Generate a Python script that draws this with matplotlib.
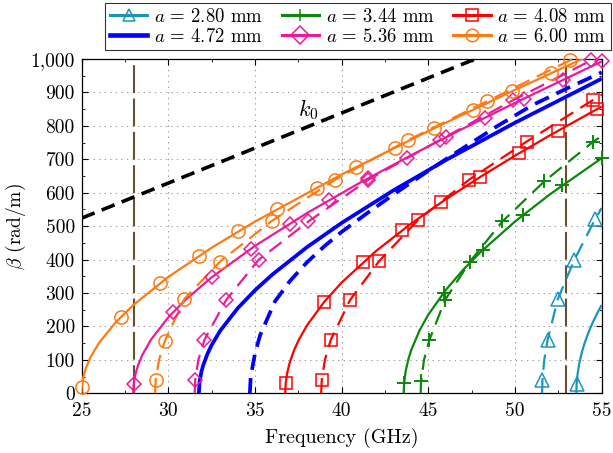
import numpy as np
import matplotlib
matplotlib.use('Agg')
import matplotlib.pyplot as plt
from matplotlib.lines import Line2D
from matplotlib.ticker import MultipleLocator, FuncFormatter

plt.rcParams['font.family'] = 'serif'
plt.rcParams['font.serif'] = ['cmr10', 'DejaVu Serif']
plt.rcParams['mathtext.fontset'] = 'cm'
plt.rcParams['axes.formatter.use_mathtext'] = True
plt.rcParams['lines.scale_dashes'] = False

# ---- data (frequency in GHz, beta in rad/m) ----
labels = ['2.80', '3.44', '4.08', '4.72', '5.36', '6.00']
colors = ['#1b95c0', '#0b870b', '#ff0000', '#0000ff', '#ec1a9a', '#ff7a12']
markers = ['^', '+', 's', None, 'D', 'o']

# solid curves
f_s = [
    [53.535, 53.55, 53.6, 53.7, 53.85, 54.0, 54.25, 54.5, 54.75, 55.0],
    [43.575, 43.6, 43.7, 43.85, 44.0, 44.5, 45.0, 46.0, 47.0, 48.0, 50.0, 52.0, 55.0],
    [36.74, 36.77, 36.85, 37.0, 37.25, 37.5, 38.0, 39.0, 40.0, 42.0, 44.0, 46.0, 48.0, 50.0, 52.0, 55.0],
    [31.757, 31.8, 31.9, 32.0, 32.25, 32.5, 33.0, 34.0, 35.0, 36.0, 38.0, 40.0, 43.0, 46.0, 50.0, 55.0],
    [27.967, 28.0, 28.1, 28.25, 28.5, 29.0, 30.0, 31.0, 32.5, 35.0, 38.0, 41.0, 44.0, 47.0, 50.0, 55.0],
    [24.983, 25.0, 25.1, 25.25, 25.5, 26.0, 27.0, 28.0, 30.0, 32.5, 35.0, 40.0, 45.0, 50.0, 55.0],
]
b_s = [
    [0, 26.7, 55.0, 88.2, 121.9, 148.2, 184.0, 214.0, 240.4, 264.3],
    [0, 30.8, 69.2, 102.7, 127.8, 189.2, 235.4, 308.9, 369.1, 421.9, 513.9, 594.7, 703.3],
    [0, 31.0, 59.6, 91.8, 128.7, 157.4, 203.4, 274.2, 331.5, 426.5, 507.4, 580.1, 647.4, 710.8, 771.2, 857.8],
    [0, 34.2, 63.0, 82.3, 117.6, 144.7, 187.9, 254.5, 308.3, 355.3, 437.3, 509.7, 607.6, 697.4, 809.4, 941.1],
    [0, 28.8, 57.4, 83.7, 115.0, 160.8, 227.5, 280.3, 347.0, 441.1, 539.2, 628.3, 711.9, 791.7, 868.7, 992.6],
    [0, 19.2, 50.7, 76.7, 107.0, 150.9, 214.6, 265.0, 348.1, 435.6, 513.7, 654.7, 784.4, 907.7, 1026.9],
]
# markers on solid curves
fm_s = [
    [53.55],
    [43.6, 45.88, 48.16, 50.44, 52.72, 55.0],
    [36.77, 39.0, 41.25, 43.5, 45.75, 48.0, 50.25, 52.5, 54.75],
    [],
    [28.0, 30.25, 32.5, 34.75, 37.0, 39.25, 41.5, 43.75, 46.0, 48.25, 50.5, 52.75, 55.0],
    [25.0, 27.26, 29.52, 31.77, 34.03, 36.29, 38.55, 40.81, 43.06, 45.32, 47.58, 49.84, 52.1],
]
bm_s = [
    [26.7],
    [30.8, 301.0, 429.8, 532.4, 621.9, 703.3],
    [31.0, 274.2, 393.1, 488.1, 571.4, 647.4, 718.5, 786.0, 850.7],
    [],
    [28.8, 241.7, 347.0, 432.3, 507.7, 577.2, 642.6, 705.1, 765.4, 824.0, 881.3, 937.4, 992.6],
    [19.2, 228.6, 329.5, 411.3, 484.3, 551.6, 615.3, 676.3, 735.0, 792.5, 848.7, 903.8, 958.2],
]

# dashed curves
f_d = [
    [51.56, 51.58, 51.685, 51.88, 52.46, 53.42, 54.62, 55.0],
    [44.553, 44.58, 44.75, 45.06, 45.96, 47.4, 49.27, 51.69, 54.52, 55.0],
    [38.815, 38.85, 39.03, 39.37, 40.48, 42.17, 44.42, 47.35, 50.67, 54.52, 55.0],
    [34.70, 34.75, 35.0, 35.3, 36.15, 37.0, 38.0, 39.0, 40.0, 41.5, 43.0, 44.5, 46.0, 47.5, 49.0, 51.0, 53.0, 55.0],
    [31.515, 31.55, 31.73, 32.08, 33.33, 35.2, 38.08, 41.54, 45.67, 49.9, 54.4, 55.0],
    [29.233, 29.27, 29.46, 29.8, 30.92, 32.98, 35.98, 39.62, 43.85, 48.37, 53.17, 54.0],
]
b_d = [
    [0, 40, 100, 160, 281, 399, 521, 554],
    [0, 37, 100, 160, 279, 394, 514, 634, 753, 770],
    [0, 40, 100, 160, 279, 396, 519, 639, 753, 878, 893],
    [0, 50, 120, 175, 275, 335, 392, 440, 483, 540, 595, 648, 700, 750, 800, 862, 912, 960],
    [0, 40, 100, 160, 279, 399, 514, 639, 758, 877, 996, 1012],
    [0, 40, 100, 157, 282, 394, 516, 639, 758, 873, 996, 1020],
]
# markers on dashed curves
fm_d = [
    [51.58, 51.88, 52.46, 53.42, 54.62],
    [44.58, 45.06, 45.96, 47.4, 49.27, 51.69, 54.52],
    [38.85, 39.37, 40.48, 42.17, 44.42, 47.35, 50.67, 54.52],
    [],
    [31.55, 32.08, 33.33, 35.2, 38.08, 41.54, 45.67, 49.9, 54.4],
    [29.27, 29.8, 30.92, 32.98, 35.98, 39.62, 43.85, 48.37, 53.17],
]
bm_d = [
    [40, 160, 281, 399, 521],
    [37, 160, 279, 394, 514, 634, 753],
    [40, 160, 279, 396, 519, 639, 753, 878],
    [],
    [40, 160, 279, 399, 514, 639, 758, 877, 996],
    [40, 157, 282, 394, 516, 639, 758, 873, 996],
]

f_k0 = [25, 55]
b_k0 = [524, 1153]
f_vlines = [28.0, 52.93]

fig = plt.figure(figsize=(6.13, 4.53), dpi=100)
ax = fig.add_axes([0.1333, 0.1318, 0.8483, 0.738])

for x in f_vlines:
    ax.axvline(x, color='#6b4f2c', lw=1.5, dashes=(20, 4), zorder=2)
ax.plot(f_k0, b_k0, color='black', lw=2.6, dashes=(10, 5.5), zorder=3)
ax.text(37.5, 850, r'$k_0$', fontsize=16, va='center', ha='left')

handles = []
for i in range(len(labels)):
    c = colors[i]
    lw = 2.7 if markers[i] is None else 1.6
    ax.plot(f_s[i], b_s[i], color=c, lw=lw, zorder=4, solid_capstyle='butt')
    ax.plot(f_d[i], b_d[i], color=c, lw=lw, dashes=(11, 6), zorder=4)
    if markers[i] is not None:
        ms = 9.5 if markers[i] in ('o', '^', '+') else 8.5
        if markers[i] == 'D':
            ms = 7.5
        for fm, bm in ((fm_s[i], bm_s[i]), (fm_d[i], bm_d[i])):
            ax.plot(fm, bm, ls='none', marker=markers[i], ms=ms, mfc='none',
                    mec=c, mew=1.1 if markers[i] != '+' else 1.4, zorder=5, clip_on=False)
    handles.append(Line2D([], [], color=c, lw=lw + 0.6, marker=markers[i], ms=9,
                          mfc='none', mec=c, mew=1.1,
                          label=r'$a\, =\, %s$ mm' % labels[i]))

ax.set_xlim(25, 55)
ax.set_ylim(0, 1000)
ax.xaxis.set_major_locator(MultipleLocator(5))
ax.xaxis.set_minor_locator(MultipleLocator(2.5))
ax.yaxis.set_major_locator(MultipleLocator(100))
ax.yaxis.set_minor_locator(MultipleLocator(50))
ax.yaxis.set_major_formatter(FuncFormatter(lambda v, p: '{:,}'.format(int(round(v)))))
ax.xaxis.set_major_formatter(FuncFormatter(lambda v, p: '%d' % v))
ax.tick_params(which='both', direction='in', top=True, right=True, labelsize=14)
ax.tick_params(axis='y', pad=5)
ax.tick_params(axis='x', pad=6)
ax.tick_params(which='major', length=4, width=0.8)
ax.tick_params(which='minor', length=2.5, width=0.6)
ax.grid(True, which='major', ls=(0, (1, 3)), color='#999999', lw=0.7)
for s in ax.spines.values():
    s.set_linewidth(0.9)

ax.set_xlabel('Frequency (GHz)', fontsize=14.5, labelpad=6)
ax.set_ylabel(r'$\beta$ (rad/m)', fontsize=14, labelpad=2)

order = [0, 3, 1, 4, 2, 5]
leg = fig.legend([handles[k] for k in order], [handles[k].get_label() for k in order],
                 ncol=3, loc='upper right', bbox_to_anchor=(611 / 613, 1 - 3 / 453),
                 borderaxespad=0,
                 fontsize=13.5, frameon=True, fancybox=False, edgecolor='black',
                 handlelength=2.0, handletextpad=0.35, columnspacing=1.0,
                 labelspacing=0.1, borderpad=0.25)
leg.get_frame().set_linewidth(0.8)

fig.savefig('out.png', dpi=100)
